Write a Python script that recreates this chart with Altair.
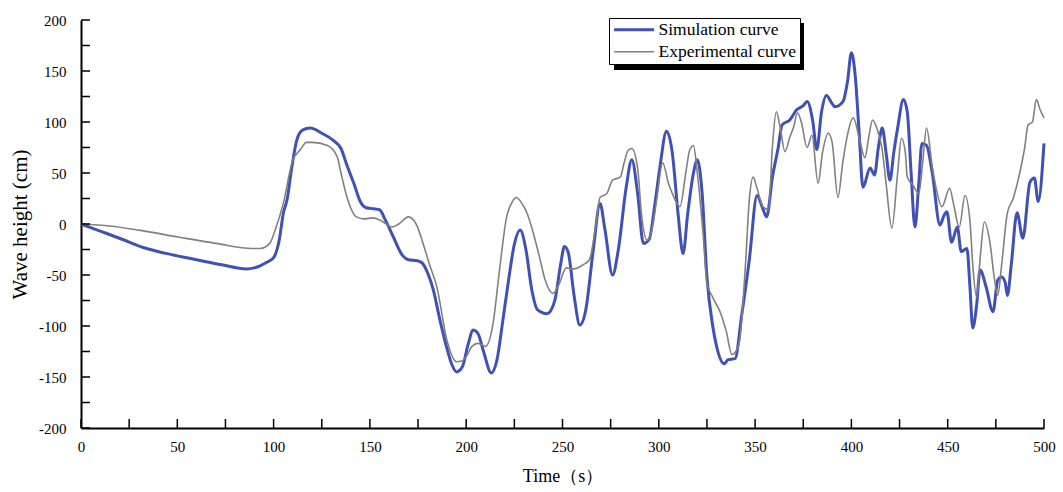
import altair as alt
import pandas as pd

# ---------------- data ----------------
sim_t = [0, 10, 20, 34, 47, 60, 73, 86, 90, 93, 96, 100, 103, 105, 107, 109.5, 112, 115, 119, 125,
         131, 135, 138, 142, 145, 148, 152, 155, 158, 162, 167, 170, 174.5, 177, 180, 183, 186, 190,
         192.6, 195, 198, 201, 203.5, 206, 209, 213, 216, 219, 222, 225, 228, 231, 234, 237, 242, 246,
         249, 251, 253, 256, 259, 262, 266, 269.5, 272, 276, 279, 283, 286, 289, 292, 295, 298, 300.6,
         304, 307, 310, 312.6, 315, 318, 320, 322.5, 325, 328, 330, 334, 336, 339.6, 343, 347, 351, 354,
         356, 359, 362, 364, 368, 371.6, 375, 377, 380, 382, 384.5, 387, 390, 391.5, 395.6, 398, 400,
         402, 404, 406, 409.7, 412, 414, 416, 418, 420, 422, 424, 427, 429, 431, 433, 435, 436.6, 439,
         442, 446, 448, 449.6, 452, 455, 457, 460, 461.5, 463, 465, 466.8, 470, 473.5, 476, 478, 479.8,
         481, 483, 486, 489, 492.7, 495, 497, 500]
sim_v = [0, -7, -14, -24, -30, -35, -40, -44, -43, -41, -38, -33, -15, 10, 24, 56, 82, 92, 94, 89,
         82, 74, 58, 38, 22, 16, 15, 14, 4, -12, -31, -35, -36, -38, -48, -65, -91, -122,
         -138, -145, -140, -118, -104, -107, -125, -146, -133, -95, -55, -20, -6, -25, -64, -84, -88, -75,
         -40, -22, -28, -70, -99, -85, -25, 20, -5, -50, -25, 35, 63, 30, -19, -15, 20, 56,
         91, 70, 10, -29, 10, 50, 63, 30, -52, -100, -120, -137, -133, -132, -90, -35, 28, 15,
         7, 46, 75, 97, 102, 112, 116, 120, 100, 73, 110, 126, 118, 115, 120, 140, 168,
         145, 90, 36, 55, 48, 75, 94, 70, 43, 70, 94, 122, 110, 50, -3, 40, 79, 77,
         50, -1, 8, 12, -18, -3, -27, -24, -60, -102, -80, -45, -62, -86, -55, -52, -57,
         -70, -40, 11, -14, 41, 45, 22, 79]

exp_t = [0, 15, 30, 51, 70, 89, 93, 98, 101, 105, 110, 114, 117, 120, 128, 133, 135, 138, 143, 147,
         151.6, 156, 161.5, 165, 170, 174, 177.6, 181, 184.8, 190, 195, 198, 200, 203, 206, 210, 214,
         217, 221, 224, 226, 229, 231.5, 235, 238, 241, 245, 248, 252, 256, 260.6, 264, 267, 269.5,
         273, 276, 280, 282, 284, 286, 289, 291, 294, 297, 299, 302, 305, 307, 311, 314, 316, 318,
         320, 323, 325, 328, 332, 335, 338, 340, 342, 345, 347, 349, 351, 354, 357, 359, 361, 363,
         365.5, 368, 370, 372, 374, 377, 379.5, 382.7, 385, 388, 390, 393, 395.5, 397.7, 401, 404,
         407, 409, 411, 413, 416, 418, 421, 424, 426, 428, 429, 432, 435, 437, 439, 442, 444, 447,
         451, 453, 456, 459, 461.6, 463, 465, 467, 469, 472, 474, 476, 478, 481, 484, 487.5, 490,
         491.7, 494, 496, 498, 500]
exp_v = [0, -2, -6, -13, -19, -24, -24, -19, -5, 20, 63, 73, 80, 80, 77, 66, 50, 27, 7, 5,
         6, 3, -3, 0, 7, 0, -19, -40, -62, -114, -135, -134, -130, -120, -117, -120, -97,
         -50, 7, 22, 26, 20, 11, -10, -32, -55, -68, -60, -43, -44, -40, -35, -5, 26,
         30, 43, 46, 60, 72, 74, 55, 10, -16, 0, 25, 60, 40, 30, 17, 50, 72, 77,
         50, -10, -58, -72, -87, -105, -128, -125, -114, -40, 24, 46, 35, 17, 14, 76, 110, 95,
         71, 85, 95, 109, 100, 75, 87, 40, 70, 89, 80, 26, 60, 85, 104, 85,
         65, 85, 102, 95, 73, 40, -4, 50, 84, 70, 46, 38, 30, 60, 94, 56, 35, 17,
         35, 20, -3, 28, 2, -40, -72, -30, 2, -19, -50, -70, -40, 11, 25, 51, 75,
         97, 100, 122, 112, 104]

series_names = ["Simulation curve", "Experimental curve"]
series_colors = ["#3F51B5", "#808080"]
series_widths = [3, 1.6]

x_ticks = list(range(0, 501, 25))
y_ticks = list(range(-200, 201, 25))
x_labels = list(range(0, 501, 50))
y_labels = list(range(-200, 201, 50))

# ---------------- tables ----------------
df = pd.concat([
    pd.DataFrame({"t": sim_t, "v": sim_v, "series": series_names[0]}),
    pd.DataFrame({"t": exp_t, "v": exp_v, "series": series_names[1]}),
], ignore_index=True)
xt_df = pd.DataFrame({"t": x_ticks})
yt_df = pd.DataFrame({"v": y_ticks})

FONT = "Liberation Serif"
W, H = 963, 408

xscale = alt.Scale(domain=[0, 500], nice=False, zero=False)
yscale = alt.Scale(domain=[-200, 200], nice=False, zero=False)

color = alt.Color("series:N",
                  scale=alt.Scale(domain=series_names, range=series_colors),
                  legend=alt.Legend(title=None, orient="none", legendX=528, legendY=-2,
                                    symbolType="M-1,0H5", symbolSize=178,
                                    labelFont=FONT, labelFontSize=17.5, labelColor="black",
                                    padding=3, rowPadding=3, labelOffset=29,
                                    strokeColor="black", fillColor="white"))
swidth = alt.StrokeWidth("series:N",
                         scale=alt.Scale(domain=series_names, range=series_widths),
                         legend=None)

x_enc = alt.X("t:Q", scale=xscale,
              axis=alt.Axis(title="Time（s）", values=x_labels, ticks=False, grid=False,
                            domainColor="black", domainWidth=2,
                            labelExpr="'' + datum.value",
                            labelFont=FONT, labelFontSize=15, labelColor="black",
                            labelPadding=11, labelFlush=False,
                            titleFont=FONT, titleFontSize=18, titleFontWeight="normal",
                            titleColor="black", titlePadding=13))
y_enc = alt.Y("v:Q", scale=yscale,
              axis=alt.Axis(title="Wave height (cm)", values=y_labels, ticks=False, grid=False,
                            domainColor="black", domainWidth=2,
                            labelExpr="'' + datum.value",
                            labelFont=FONT, labelFontSize=15, labelColor="black",
                            labelPadding=15, labelFlush=False,
                            titleFont=FONT, titleFontSize=21, titleFontWeight="normal",
                            titleColor="black", titlePadding=8))

base = alt.Chart(df)

shadow = alt.Chart(xt_df).mark_rect(color="black").encode(
    x=alt.value(533), x2=alt.value(723), y=alt.value(3), y2=alt.value(50))

sim_line = base.transform_filter(alt.datum.series == series_names[0]).mark_line(
    interpolate="monotone").encode(x=x_enc, y=y_enc, color=color, strokeWidth=swidth)
exp_line = base.transform_filter(alt.datum.series == series_names[1]).mark_line(
    interpolate="monotone").encode(x=x_enc, y=y_enc, color=color, strokeWidth=swidth)

xticks = alt.Chart(xt_df).mark_rule(color="black", strokeWidth=1.5).encode(
    x=x_enc, y=alt.value(H), y2=alt.value(H - 9))
yticks = alt.Chart(yt_df).mark_rule(color="black", strokeWidth=1.5).encode(
    y=y_enc, x=alt.value(0), x2=alt.value(9))

chart = alt.layer(shadow, sim_line, exp_line, xticks, yticks).properties(
    width=W, height=H,
    autosize=alt.AutoSizeParams(type="none"),
    padding={"left": 81, "top": 20, "right": 19, "bottom": 64},
    background="white",
).configure_view(stroke=None)

chart.save("out.html", embed_options={"renderer": "svg", "actions": False})
